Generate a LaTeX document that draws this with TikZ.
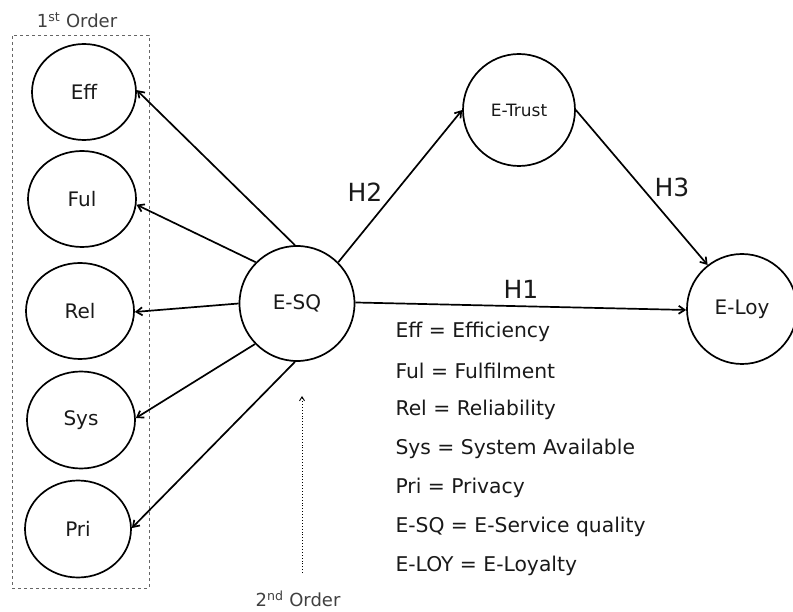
\documentclass[tikz,border=0pt]{standalone}
\usepackage{fontspec}
\setmainfont{DejaVu Sans}
\usetikzlibrary{shapes.geometric,arrows.meta}
\begin{document}
\begin{tikzpicture}[x=1pt,y=-1pt,
  lat/.style={draw,line width=1.7pt,ellipse,inner sep=0pt,font=\fontsize{20}{23}\selectfont,text=black!90},
  cir/.style={draw,line width=1.7pt,circle,inner sep=0pt,font=\fontsize{20}{23}\selectfont,text=black!90},
  arr/.style={line width=1.7pt,-{Straight Barb[length=6pt,width=8pt]}},
  hlab/.style={font=\fontsize{25}{28}\selectfont,text=black!90},
  leg/.style={anchor=west,font=\fontsize{20.3}{23}\selectfont,text=black!90},
  ord/.style={font=\fontsize{18}{21}\selectfont,text=black!75}]
\useasboundingbox (0,0) rectangle (793,612);
\node[draw=black!60,dashed,line width=0.8pt,minimum width=137pt,minimum height=553pt,inner sep=0pt] (box) at (80.5,311.5) {};
\node[ord] (first) at (77,20) {1\textsuperscript{st} Order};
\node[lat,minimum width=104pt,minimum height=96pt] (eff) at (84,92) {Eff};
\node[lat,minimum width=108pt,minimum height=96pt] (ful) at (82,199) {Ful};
\node[lat,minimum width=108pt,minimum height=96pt] (rel) at (80,311) {Rel};
\node[lat,minimum width=108pt,minimum height=97pt] (sys) at (81,420) {Sys};
\node[lat,minimum width=106pt,minimum height=97pt] (pri) at (78,529) {Pri};
\node[cir,minimum size=115pt] (esq) at (297,303.5) {E-SQ};
\node[cir,minimum size=112pt,font=\fontsize{17}{20}\selectfont] (etr) at (519,110) {E-Trust};
\node[cir,minimum size=110pt] (eloy) at (742,309) {E-Loy};
\draw[arr] (esq.92) -- (eff.2);
\draw[arr] (esq.135) -- (ful.-6);
\draw[arr] (esq.180) -- (rel.-1);
\draw[arr] (esq.224) -- (sys.2);
\draw[arr] (esq.268) -- (pri.1);
\draw[arr] (esq.45) -- (etr.180);
\draw[arr] (etr.0) -- (eloy.128);
\draw[arr] (esq.1) -- (eloy.181);
\node[hlab] (h2) at (365,192) {H2};
\node[hlab] (h3) at (672,187) {H3};
\node[hlab] (h1) at (521,289) {H1};
\node[ord] (second) at (298,599) {2\textsuperscript{nd} Order};
\coordinate (tgt) at (302,396);
\draw[dotted,line width=0.9pt,-{Straight Barb[length=4pt,width=5pt]}] (302,573) -- (tgt);
\node[leg] (l1) at (392,332) {Eff = Efficiency};
\node[leg] (l2) at (392,371) {Ful = Fulfilment};
\node[leg] (l3) at (392,410) {Rel = Reliability};
\node[leg] (l4) at (392,449) {Sys = System Available};
\node[leg] (l5) at (392,488) {Pri = Privacy};
\node[leg] (l6) at (392,527) {E-SQ = E-Service quality};
\node[leg] (l7) at (392,566) {E-LOY = E-Loyalty};
\end{tikzpicture}
\end{document}
